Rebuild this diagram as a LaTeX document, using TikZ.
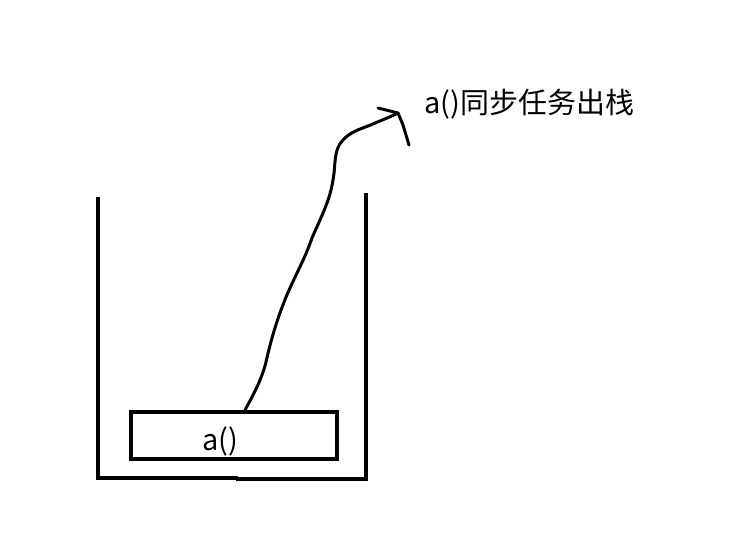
\documentclass[tikz,border=0pt]{standalone}
\usepackage{fontspec}
\setmainfont{Noto Sans CJK SC}
\begin{document}
\begin{tikzpicture}[x=1pt,y=-1pt,
  stroke/.style={line width=3.6pt,black},
  thinstroke/.style={line width=3pt,black,line cap=round,line join=round},
  lbl/.style={font=\fontsize{29}{34}\selectfont,inner sep=0pt}]
\useasboundingbox (0,0) rectangle (740,548);
% container
\draw[stroke] (98,197) -- (98,478) -- (238,478);
\draw[stroke] (236,479) -- (366,479) -- (366,193);
% box
\node[draw,stroke,minimum width=206pt,minimum height=47pt,inner sep=0pt] (box) at (234,435.5) {};
\node[lbl] (txt) at (220.5,441) {a()};
% curve
\coordinate (start) at (245,410);
\coordinate (tip) at (398,113);
\draw[thinstroke] (start) .. controls (255,392) and (262,378) .. (266,362)
  .. controls (272,335) and (280,310) .. (290,288)
  .. controls (300,266) and (305,258) .. (312,238)
  .. controls (322,215) and (330,200) .. (333,180)
  .. controls (336,165) and (333,150) .. (343,140)
  .. controls (352,130) and (365,128) .. (375,123)
  .. controls (385,119) and (392,116) .. (tip);
\draw[thinstroke] (378,108) -- (tip) -- (403,125) -- (409,145);
% label
\node[lbl,anchor=west] (title) at (424,104) {a()同步任务出栈};
\end{tikzpicture}
\end{document}
